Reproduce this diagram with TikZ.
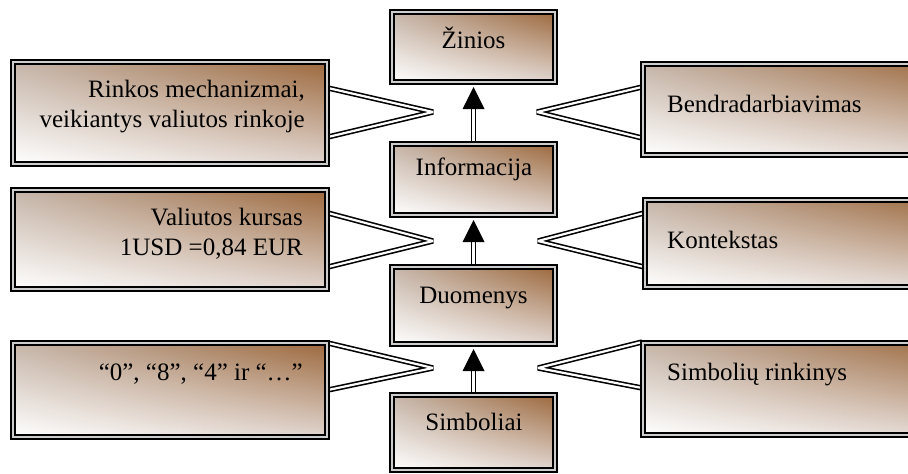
\documentclass[tikz,border=0pt]{standalone}
\usepackage{fontspec}
\setmainfont{Liberation Serif}
\usetikzlibrary{calc,backgrounds,shadings}
\definecolor{boxbrown}{RGB}{156,104,60}
\definecolor{fadeul}{RGB}{198,182,170}
\definecolor{fadelr}{RGB}{224,213,207}
\definecolor{rimgray}{RGB}{205,205,205}
\begin{document}
\begin{tikzpicture}[x=1pt,y=-1pt,
  panel/.style={draw=black, line width=1.6pt, double=rimgray, double distance=2.4pt,
    shade, upper right=boxbrown, lower left=white, upper left=fadeul, lower right=fadelr,
    inner sep=0pt},
  midpanel/.style={panel, minimum width=163.4pt},
  sidepanel/.style={panel, minimum width=314.4pt},
  txt/.style={font=\fontsize{25}{30}\selectfont, inner sep=0pt, text=black},
  link/.style={draw=black, line width=1.6pt, double=white, double distance=2.2pt, line join=bevel},
  shaft/.style={draw=black, line width=1.8pt, double=white, double distance=2.2pt, shorten >=26pt},
  tiphead/.style={fill=black}
]
\useasboundingbox (0,0) rectangle (908,474);

% central hierarchy
\node[midpanel, minimum height=70.4pt] (zin) at (473.5,47) {};
\node[midpanel, minimum height=71.4pt] (inf) at (473.5,179.5) {};
\node[midpanel, minimum height=77.4pt] (duo) at (473.5,305.5) {};
\node[midpanel, minimum height=75.4pt] (sim) at (473.5,432.5) {};

% left examples
\node[sidepanel, minimum height=102.4pt] (rin) at (170,113) {};
\node[sidepanel, minimum height=99.4pt] (val) at (170,239.5) {};
\node[sidepanel, minimum height=94.4pt] (zer) at (170,390) {};

% right factors
\node[sidepanel, minimum height=91.4pt] (ben) at (800,109.5) {};
\node[panel, minimum width=312.4pt, minimum height=87.4pt] (kon) at (801,243.5) {};
\node[sidepanel, minimum height=92.4pt] (sym) at (800,389) {};

% labels
\node[txt, anchor=base] (zint) at (473.5,48) {Žinios};
\node[txt, anchor=base] (inft) at (474,175) {Informacija};
\node[txt, anchor=base] (duot) at (473.5,303) {Duomenys};
\node[txt, anchor=base] (simt) at (474,430) {Simboliai};
\node[txt, anchor=base east] (rint1) at (305,97) {Rinkos mechanizmai,};
\node[txt, anchor=base east] (rint2) at (305,127) {veikiantys valiutos rinkoje};
\node[txt, anchor=base east] (valt1) at (303,225) {Valiutos kursas};
\node[txt, anchor=base east] (valt2) at (303,255) {1USD =0,84 EUR};
\node[txt, anchor=base east] (zert) at (303,380) {“0”, “8”, “4” ir “…”};
\node[txt, anchor=base west] (bent) at (667,112) {Bendradarbiavimas};
\node[txt, anchor=base west] (kont) at (667,248) {Kontekstas};
\node[txt, anchor=base west] (symt) at (667,380) {Simbolių rinkinys};

% wedge apexes
\coordinate (la1) at (433,112);
\coordinate (la2) at (433,241);
\coordinate (la3) at (433,368);
\coordinate (ra1) at (537,112);
\coordinate (ra2) at (538,241);
\coordinate (ra3) at (538,368);

\begin{scope}[on background layer]
  % callout wedges
  \draw[link] ($(rin.east)+(0,-25)$) -- (la1) -- ($(rin.east)+(0,24)$);
  \draw[link] ($(val.east)+(0,-26.5)$) -- (la2) -- ($(val.east)+(0,27.5)$);
  \draw[link] ($(zer.east)+(0,-47)$) -- (la3) -- ($(zer.east)+(0,0)$);
  \draw[link] ($(ben.west)+(0,-22.5)$) -- (ra1) -- ($(ben.west)+(0,28.5)$);
  \draw[link] ($(kon.west)+(0,-30.5)$) -- (ra2) -- ($(kon.west)+(0,23.5)$);
  \draw[link] ($(sym.west)+(0,-47)$) -- (ra3) -- ($(sym.west)+(0,-1)$);
  % upward arrows
  \draw[shaft] (inf.north) -- (zin.south);
  \draw[shaft] (duo.north) -- (inf.south);
  \draw[shaft] (sim.north) -- (duo.south);
\end{scope}

% arrow heads
\fill[tiphead] ($(zin.south)+(0,4)$) -- ++(-11,22) -- ++(22,0) -- cycle;
\fill[tiphead] ($(inf.south)+(0,4)$) -- ++(-11,22) -- ++(22,0) -- cycle;
\fill[tiphead] ($(duo.south)+(0,4)$) -- ++(-11,22) -- ++(22,0) -- cycle;
\end{tikzpicture}
\end{document}
